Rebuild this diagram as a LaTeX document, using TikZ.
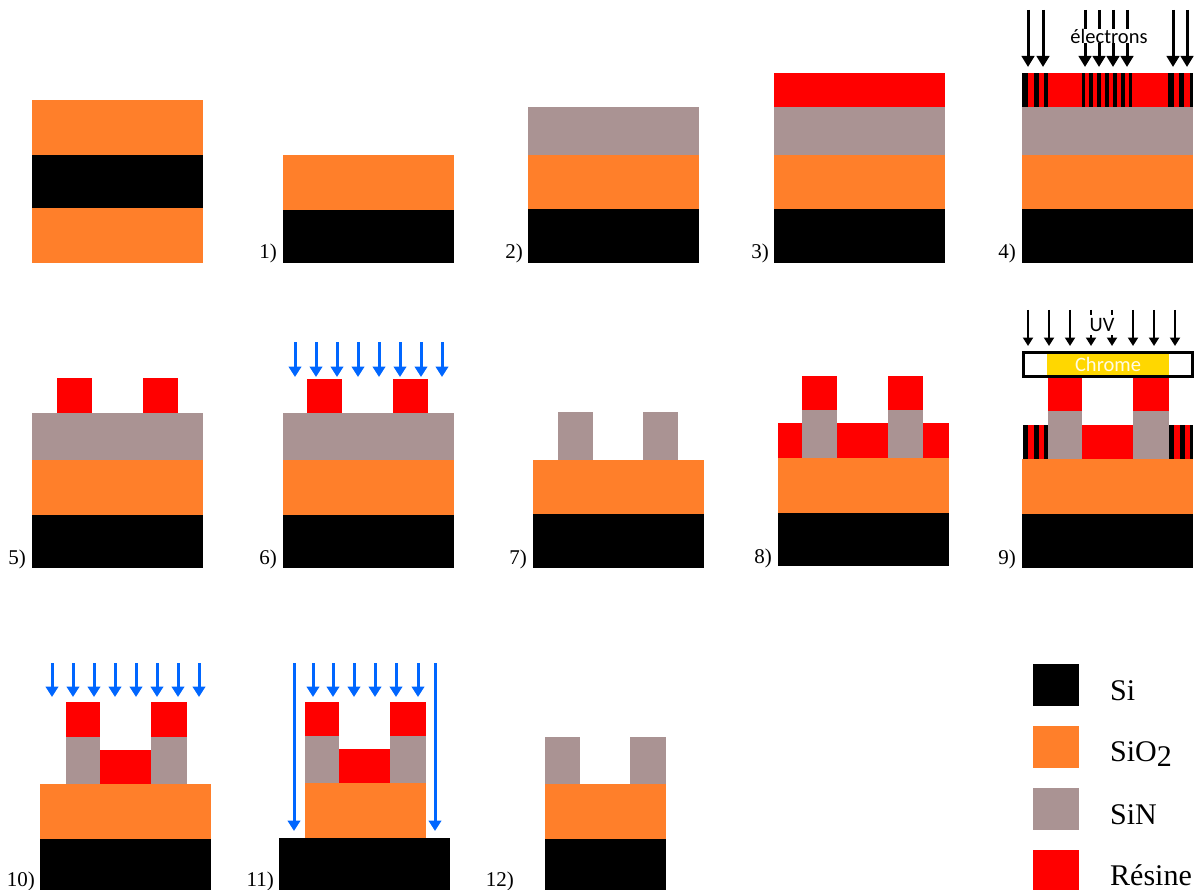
\documentclass[tikz,border=0pt]{standalone}
\usepackage{fontspec}
\setmainfont{Liberation Serif}
\newfontfamily\calibrifont{Carlito}
\usepackage{tikz}
\usetikzlibrary{arrows.meta}
\usepackage{xcolor}
\definecolor{siliconblack}{RGB}{0,0,0}
\definecolor{oxideorange}{RGB}{255,127,42}
\definecolor{nitridegrey}{RGB}{170,147,147}
\definecolor{resistred}{RGB}{255,0,0}
\definecolor{chromeyellow}{RGB}{255,215,0}
\definecolor{beamblue}{RGB}{0,102,255}

\begin{document}
\begin{tikzpicture}[x=1pt, y=-1pt,
    silayer/.style={fill=siliconblack},
    oxlayer/.style={fill=oxideorange},
    sinlayer/.style={fill=nitridegrey},
    reslayer/.style={fill=resistred},
    ebeam/.style={draw=black, line width=3pt, -{Triangle[width=12.5pt,length=11pt]}},
    uvbeam/.style={draw=black, line width=2pt, -{Triangle[width=10pt,length=8.5pt]}},
    bluebeam/.style={draw=beamblue, line width=3pt, -{Triangle[width=12.5pt,length=10.5pt]}},
    steplabel/.style={anchor=base east, font=\fontsize{21}{24}\selectfont, inner sep=0pt},
    legendlabel/.style={anchor=base west, font=\fontsize{30}{34}\selectfont, inner sep=0pt},
    beamlabel/.style={font=\calibrifont\fontsize{20.5}{22}\selectfont, inner sep=0pt, fill=white}]
  \useasboundingbox (0,0) rectangle (1201,890);

  % start
  \fill[oxlayer] (32,100) rectangle (203,155);
  \fill[silayer] (32,155) rectangle (203,208);
  \fill[oxlayer] (32,208) rectangle (203,263);

  % 1)
  \fill[oxlayer] (283,155) rectangle (454,210);
  \fill[silayer] (283,210) rectangle (454,263);
  \node[steplabel] (step1) at (277,259) {1)};

  % 2)
  \fill[sinlayer] (528,107) rectangle (699,155);
  \fill[oxlayer] (528,155) rectangle (699,209);
  \fill[silayer] (528,209) rectangle (699,263);
  \node[steplabel] (step2) at (523,259) {2)};

  % 3)
  \fill[reslayer] (774,73) rectangle (945,107);
  \fill[sinlayer] (774,107) rectangle (945,155);
  \fill[oxlayer] (774,155) rectangle (945,209);
  \fill[silayer] (774,209) rectangle (945,263);
  \node[steplabel] (step3) at (769,259) {3)};

  % 4)
  \fill[reslayer] (1022,73) rectangle (1193,107);
  \foreach \xa/\xb in {1022/1028,1034/1039,1044/1047.5,1082/1085,1089/1093,1097/1101,
      1105/1109,1113/1117,1121/1124.5,1129/1132,1168/1174,1179/1184,1190/1193} {
    \fill[silayer] (\xa,73) rectangle (\xb,107);
  }
  \fill[sinlayer] (1022,107) rectangle (1193,155);
  \fill[oxlayer] (1022,155) rectangle (1193,209);
  \fill[silayer] (1022,209) rectangle (1193,263);
  \foreach \x in {1028,1043,1085,1099,1113,1127,1173,1187} {
    \draw[ebeam] (\x,10) -- (\x,67);
  }
  \node[beamlabel] (electrons) at (1109,36) {électrons};
  \node[steplabel] (step4) at (1016,259) {4)};

  % 5)
  \foreach \x in {57,143} {
    \fill[reslayer] (\x,378) rectangle ++(35,35);
  }
  \fill[sinlayer] (32,413) rectangle (203,460);
  \fill[oxlayer] (32,460) rectangle (203,515);
  \fill[silayer] (32,515) rectangle (203,568);
  \node[steplabel] (step5) at (26,564) {5)};

  % 6)
  \foreach \x in {307,393} {
    \fill[reslayer] (\x,379) rectangle ++(35,34);
  }
  \fill[sinlayer] (283,413) rectangle (454,460);
  \fill[oxlayer] (283,460) rectangle (454,515);
  \fill[silayer] (283,515) rectangle (454,568);
  \foreach \x in {295,316,337,358,379,400,421,442} {
    \draw[bluebeam] (\x,342) -- (\x,377);
  }
  \node[steplabel] (step6) at (277,564) {6)};

  % 7)
  \foreach \x in {558,643} {
    \fill[sinlayer] (\x,412) rectangle ++(35,48);
  }
  \fill[oxlayer] (533,460) rectangle (704,514);
  \fill[silayer] (533,514) rectangle (704,568);
  \node[steplabel] (step7) at (527,564) {7)};

  % 8)
  \fill[reslayer] (778,423) rectangle (949,458);
  \foreach \x in {802,888} {
    \fill[reslayer] (\x,376) rectangle ++(35,34);
    \fill[sinlayer] (\x,410) rectangle ++(35,48);
  }
  \fill[oxlayer] (778,458) rectangle (949,513);
  \fill[silayer] (778,513) rectangle (949,566);
  \node[steplabel] (step8) at (772,563) {8)};

  % 9)
  \fill[reslayer] (1023,425) rectangle (1193,459);
  \foreach \xa/\xb in {1023/1028,1034/1039,1044/1048,1169/1174,1180/1185,1190/1193} {
    \fill[silayer] (\xa,425) rectangle (\xb,459);
  }
  \foreach \xa/\xb in {1048/1082,1133/1169} {
    \fill[reslayer] (\xa,377) rectangle (\xb,411);
    \fill[sinlayer] (\xa,411) rectangle (\xb,459);
  }
  \fill[oxlayer] (1022,459) rectangle (1193,514);
  \fill[silayer] (1022,514) rectangle (1193,568);
  \fill[chromeyellow] (1047,352) rectangle (1169,377);
  \draw[black, line width=2.2pt] (1023.5,352.5) rectangle (1192.5,376.5);
  \node[font=\calibrifont\fontsize{20.5}{22}\selectfont, text=white!90!chromeyellow, inner sep=0pt] (chrome) at (1108,364) {Chrome};
  \foreach \x in {1028,1049,1070,1091,1112,1133,1154,1175} {
    \draw[uvbeam] (\x,310) -- (\x,346);
  }
  \node[beamlabel, inner xsep=2pt, inner ysep=0pt, minimum height=20pt] (uv) at (1102,325) {UV};
  \node[steplabel] (step9) at (1016,564) {9)};

  % 10)
  \foreach \xa/\xb in {66/100,151/187} {
    \fill[reslayer] (\xa,702) rectangle (\xb,737);
    \fill[sinlayer] (\xa,737) rectangle (\xb,784);
  }
  \fill[reslayer] (100,750) rectangle (151,784);
  \fill[oxlayer] (40,784) rectangle (211,839);
  \fill[silayer] (40,839) rectangle (211,890);
  \foreach \x in {52,73,94,115,136,157,178,199} {
    \draw[bluebeam] (\x,663) -- (\x,697);
  }
  \node[steplabel] (step10) at (35,886) {10)};

  % 11)
  \foreach \xa/\xb in {305/339,390/426} {
    \fill[reslayer] (\xa,702) rectangle (\xb,736);
    \fill[sinlayer] (\xa,736) rectangle (\xb,783);
  }
  \fill[reslayer] (339,749) rectangle (390,783);
  \fill[oxlayer] (305,783) rectangle (426,838);
  \fill[silayer] (279,838) rectangle (450,890);
  \foreach \x in {313,333,354,375,396,418} {
    \draw[bluebeam] (\x,663) -- (\x,697);
  }
  \foreach \x in {294,435} {
    \draw[bluebeam] (\x,663) -- (\x,831);
  }
  \node[steplabel] (step11) at (274,886) {11)};

  % 12)
  \foreach \xa/\xb in {545/580,630/666} {
    \fill[sinlayer] (\xa,737) rectangle (\xb,784);
  }
  \fill[oxlayer] (545,784) rectangle (666,839);
  \fill[silayer] (545,839) rectangle (666,890);
  \node[steplabel] (step12) at (514,886) {12)};

  % legend
  \fill[silayer] (1033,664) rectangle (1079,706);
  \fill[oxlayer] (1033,726) rectangle (1079,768);
  \fill[sinlayer] (1033,788) rectangle (1079,830);
  \fill[reslayer] (1033,850) rectangle (1079,890);
  \node[legendlabel] (legsi) at (1110,700) {Si};
  \node[legendlabel] (legox) at (1110,761) {SiO\raisebox{-5pt}{2}};
  \node[legendlabel] (legsin) at (1110,824) {SiN};
  \node[legendlabel] (legres) at (1110,885) {Résine};
\end{tikzpicture}
\end{document}
